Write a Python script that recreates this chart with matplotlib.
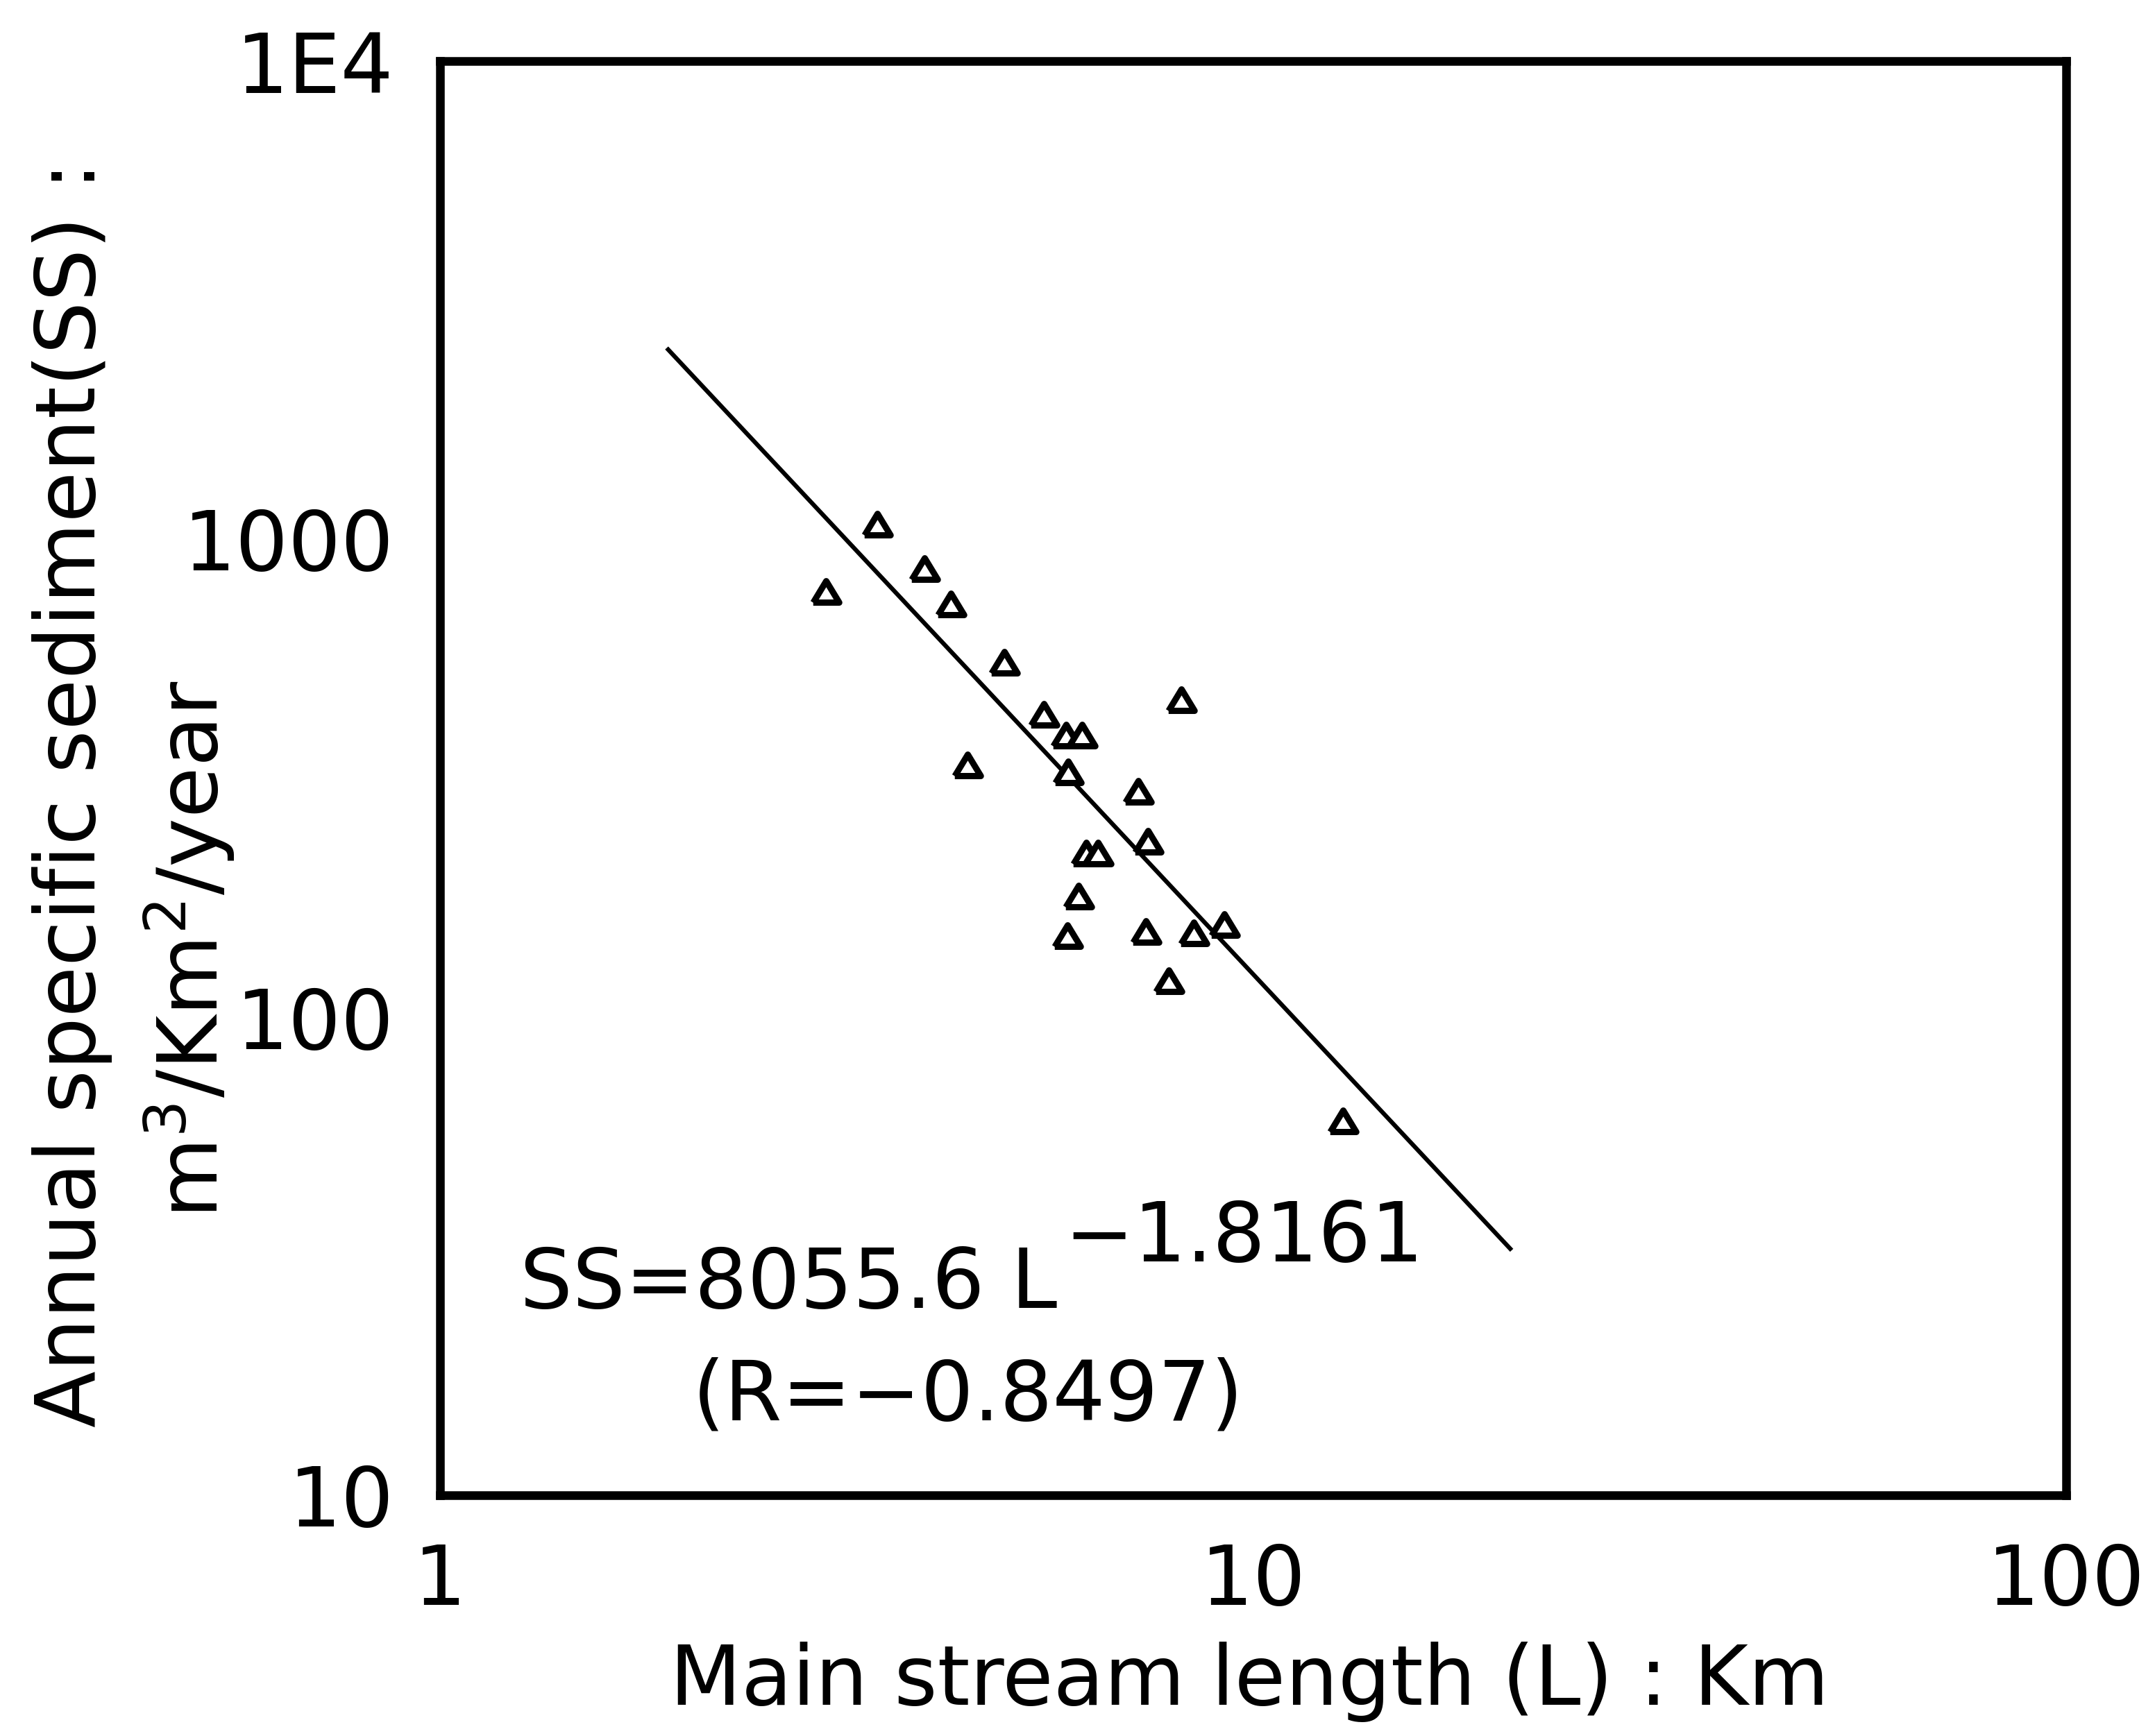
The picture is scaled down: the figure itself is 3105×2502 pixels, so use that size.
import numpy as np
import matplotlib
matplotlib.use("Agg")
import matplotlib.pyplot as plt

# observed catchments: main stream length (km) vs annual specific sediment (m3/km2/year)
stream_length = [3.45, 3.94, 2.98, 4.25, 4.94, 8.16, 5.53, 5.89, 6.16, 4.45,
                 5.92, 7.22, 7.42, 6.23, 6.45, 6.10, 5.91, 7.38, 8.45, 9.21,
                 7.88, 12.9]
specific_sediment = [1072, 867, 776, 731, 551, 461, 429, 389, 389, 336,
                     325, 296, 233, 220, 220, 179, 148, 151, 150, 156,
                     119, 60.6]

# fitted power law SS = a * L^b
fit_a = 8055.6
fit_b = -1.8161
fit_r = -0.8497
fit_range = [1.9, 20.8]

x_ticks = [1, 10, 100]
x_ticklabels = ["1", "10", "100"]
y_ticks = [10, 100, 1000, 10000]
y_ticklabels = ["10", "100", "1000", "1E4"]

plt.rcParams['font.family'] = ['DejaVu Sans']
FS = 86
W, H = 3105, 2502

fig = plt.figure(figsize=(W / 100, H / 100), dpi=100)
ax = fig.add_axes([634 / W, 1 - 2155 / H, (2977 - 634) / W, (2155 - 88) / H])

L_fit = np.geomspace(fit_range[0], fit_range[1], 50)
ax.plot(L_fit, fit_a * L_fit ** fit_b, color='black', lw=4.5, solid_capstyle='butt')

# slightly flattened open triangle, like the plotter symbol
tri = [(-1, -0.8), (1, -0.8), (0, 0.85), (-1, -0.8)]
ax.plot(stream_length, specific_sediment, linestyle='none', marker=tri,
        markersize=27, markerfacecolor='white', markeredgecolor='black',
        markeredgewidth=6.5)

ax.set_xscale('log')
ax.set_yscale('log')
ax.set_xlim(1, 100)
ax.set_ylim(10, 10000)
ax.set_xticks(x_ticks)
ax.set_xticklabels(x_ticklabels)
ax.set_yticks(y_ticks)
ax.set_yticklabels(y_ticklabels)
ax.minorticks_off()
ax.tick_params(length=0, labelsize=FS, pad=48)
for sp in ax.spines.values():
    sp.set_linewidth(9)

# equation annotation (exponent drawn full size, raised)
ax.text(0.049, 0.1306, "SS=8055.6 L", transform=ax.transAxes,
        fontsize=FS, ha='left', va='baseline')
ax.text(0.384, 0.1630, f"\u2212{abs(fit_b):.4f}", transform=ax.transAxes,
        fontsize=FS, ha='left', va='baseline')
ax.text(0.1554, 0.0523, f"(R=\u2212{abs(fit_r):.4f})", transform=ax.transAxes,
        fontsize=FS, ha='left', va='baseline')

# axis titles
fig.text(1800 / W, 1 - 2457 / H, "Main stream length (L) : Km", fontsize=FS,
         ha='center', va='baseline')
fig.text(137 / W, 1 - 1145 / H, "Annual specific sediment(SS) :", fontsize=FS,
         rotation=90, rotation_mode='anchor', ha='center', va='baseline')
fig.text(314 / W, 1 - 1368 / H, r"m$^3$/Km$^2$/year", fontsize=FS,
         rotation=90, rotation_mode='anchor', ha='center', va='baseline')

fig.savefig("out.png", dpi=100, facecolor='white')
